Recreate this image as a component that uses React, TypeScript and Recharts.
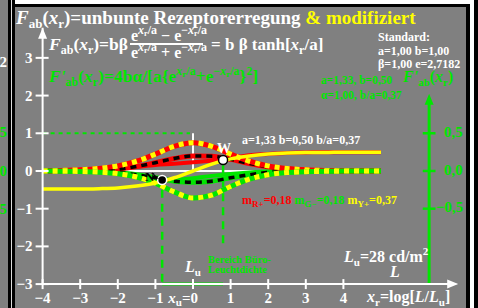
import React from 'react';
import { ComposedChart, Line, XAxis, YAxis, ReferenceLine, ReferenceDot } from 'recharts';

// sample positions on the log-luminance axis x_r
const xs = [-4, -3.5, -3, -2.5, -2, -1.5, -1, -0.5, 0, 0.5, 1, 1.5, 2, 2.5, 3, 3.5, 4, 4.5, 5];
// F_ab(x_r), standard tanh curve (yellow)
const yellowF = [-0.48, -0.48, -0.48, -0.47, -0.45, -0.4, -0.32, -0.18, 0, 0.18, 0.32, 0.4, 0.45, 0.48, 0.49, 0.49, 0.5, 0.5, 0.5];
// modified R+ and G- excitations (solid red / green)
const redF = [0, 0.005, 0.01, 0.03, 0.06, 0.11, 0.16, 0.19, 0.23, 0.28, 0.35, 0.42, 0.45, 0.48, 0.49, 0.5, 0.5, 0.5, 0.5];
const greenF = [0, -0.005, -0.01, -0.03, -0.07, -0.15, -0.22, -0.24, -0.19, -0.13, -0.08, -0.04, -0.01, 0, 0.01, 0.01, 0.01, 0.01, 0.01];
// derivatives, drawn against the green scale
const redYellowD = [0.007, 0.015, 0.032, 0.067, 0.135, 0.258, 0.447, 0.655, 0.752, 0.655, 0.447, 0.258, 0.135, 0.067, 0.032, 0.015, 0.007, 0.003, 0.002];
const greenYellowD = [-0.002, -0.006, -0.013, -0.031, -0.071, -0.159, -0.324, -0.555, -0.715, -0.64, -0.41, -0.214, -0.099, -0.043, -0.019, -0.008, -0.003, -0.001, 0];
const redBlackD = [0, 0.005, 0.01, 0.02, 0.05, 0.12, 0.22, 0.33, 0.4, 0.39, 0.31, 0.2, 0.11, 0.05, 0.02, 0.01, 0, 0, 0];
const greenBlackD = [0, 0, 0, -0.01, -0.04, -0.1, -0.18, -0.27, -0.3, -0.27, -0.18, -0.1, -0.04, -0.01, 0, 0, 0, 0, 0];

const xTicks = [-4, -3, -2, -1, 0, 1, 2, 3, 4];
const yTicks = [-3, -2, -1, 0, 1, 2, 3];
const greenTicks = [1, 0, -1];
const greenTickLabels = ['0,5', '0,0', '\u22120,5'];
const pointN = { x: -0.82, y: -0.24 };
const pointW = { x: 0.8, y: 0.29 };

const data = xs.map((x, i) => ({
  x,
  yel: yellowF[i],
  red: redF[i],
  grn: greenF[i],
  ry: redYellowD[i],
  gy: greenYellowD[i],
  rb: redBlackD[i],
  gb: greenBlackD[i],
}));

const GREEN = '#00e600';
const RED = '#ff0000';
const YEL = '#ffff00';
const GRAY = '#808080';
const FONT = '"Liberation Serif", "Times New Roman", serif';
const GX = 6.28;
const OV = 'visible' as const;

const minus = (v: number) => (v < 0 ? '\u2212' + Math.abs(v) : String(v));

const XTick = (props: any) => {
  const { x, y, payload } = props;
  const v = payload.value;
  return (
    <g>
      <line x1={x} x2={x} y1={y - 5} y2={y + 5} stroke="#fff" strokeWidth={2} />
      {v === 0 ? (
        <text x={x + 5} y={y + 19} textAnchor="end" fill="#fff" fontSize={15} fontWeight="bold" fontFamily={FONT}>
          <tspan fontStyle="italic">x</tspan>
          <tspan fontSize={11} dy={3}>u</tspan>
          <tspan dy={-3}>=0</tspan>
        </text>
      ) : (
        <text x={x} y={y + 19} textAnchor="middle" fill="#fff" fontSize={15} fontWeight="bold" fontFamily={FONT}>
          {minus(v)}
        </text>
      )}
    </g>
  );
};

const YTick = (props: any) => {
  const { x, y, payload } = props;
  return (
    <g>
      <line x1={x - 7} x2={x + 6} y1={y} y2={y} stroke="#fff" strokeWidth={2} />
      <text x={x - 10} y={y + 5} textAnchor="end" fill="#fff" fontSize={15} fontWeight="bold" fontFamily={FONT}>
        {minus(payload.value)}
      </text>
    </g>
  );
};

const ArrowUp = (color: string) => (p: any) => (
  <polygon points={`${p.cx},${p.cy} ${p.cx - 4.5},${p.cy + 11} ${p.cx + 4.5},${p.cy + 11}`} fill={color} />
);
const ArrowRight = (p: any) => (
  <polygon points={`${p.cx + 2},${p.cy} ${p.cx - 9},${p.cy - 4.5} ${p.cx - 9},${p.cy + 4.5}`} fill="#fff" />
);

export default function App() {
  return (
    <div style={{ position: 'absolute', left: 0, top: 0, width: 478, height: 308, background: GRAY, overflow: 'hidden' }}>
      {/* frame */}
      <div style={{ position: 'absolute', left: 8, top: 0, width: 3, height: 308, background: '#000' }} />
      <div style={{ position: 'absolute', left: 11, top: 0, width: 1, height: 308, background: '#ddd' }} />
      <div style={{ position: 'absolute', left: 12, top: 0, width: 3, height: 308, background: '#000' }} />
      <div style={{ position: 'absolute', left: 15, top: 0, width: 463, height: 4, background: '#fff' }} />
      <div style={{ position: 'absolute', left: 12, top: 4, width: 458, height: 3, background: '#000' }} />
      <div style={{ position: 'absolute', left: 466, top: 4, width: 4, height: 304, background: '#000' }} />
      <div style={{ position: 'absolute', left: 470, top: 0, width: 4, height: 308, background: '#fff' }} />
      <div style={{ position: 'absolute', left: 474, top: 0, width: 4, height: 308, background: '#000' }} />

      <div style={{ position: 'absolute', left: 0, top: 0, width: 478, height: 308 }}>
        <ComposedChart width={478} height={308} data={data} margin={{ top: 27.7, right: 21.8, bottom: 22.9, left: 41.6 }}>
          <XAxis type="number" dataKey="x" domain={[-4, 7]} ticks={xTicks} height={1} tickSize={0} tickMargin={0}
            axisLine={{ stroke: '#fff', strokeWidth: 2 }} tickLine={false} tick={XTick} interval={0} />
          <YAxis type="number" domain={[-3, 3.8]} ticks={yTicks} width={1} tickSize={0} tickMargin={0}
            axisLine={{ stroke: '#fff', strokeWidth: 2 }} tickLine={false} tick={YTick} interval={0} />

          <ReferenceLine ifOverflow={OV} segment={[{ x: -4, y: 1 }, { x: -0.08, y: 1 }]} stroke={GREEN} strokeWidth={2} strokeDasharray="4 4" />
          <ReferenceLine ifOverflow={OV} segment={[{ x: 0, y: 0 }, { x: 0, y: 1 }]} stroke="#fff" strokeWidth={2} />
          <ReferenceLine ifOverflow={OV} segment={[{ x: -4, y: 0 }, { x: 5, y: 0 }]} stroke="#fff" strokeWidth={2} />
          <ReferenceLine ifOverflow={OV} segment={[{ x: pointN.x, y: -0.5 }, { x: pointN.x, y: -3 }]} stroke={GREEN} strokeWidth={2.5} strokeDasharray="8 6" />
          <ReferenceLine ifOverflow={OV} segment={[{ x: pointW.x, y: 0.15 }, { x: pointW.x, y: -1.95 }]} stroke={GREEN} strokeWidth={2.5} strokeDasharray="8 6" />
          <ReferenceLine ifOverflow={OV} segment={[{ x: pointN.x, y: -3 }, { x: pointW.x, y: -3 }]} stroke={GREEN} strokeWidth={3} />

          <ReferenceLine ifOverflow={OV} segment={[{ x: GX, y: -3 }, { x: GX, y: 1.9 }]} stroke={GREEN} strokeWidth={3} />
          {greenTicks.map((t) => (
            <ReferenceLine key={t} ifOverflow={OV} segment={[{ x: GX - 0.17, y: t }, { x: GX + 0.17, y: t }]} stroke={GREEN} strokeWidth={2.5} />
          ))}
          <ReferenceDot ifOverflow={OV} x={GX} y={2.05} r={0} shape={ArrowUp(GREEN)} />
          <ReferenceDot ifOverflow={OV} x={-4} y={3.8} r={0} shape={ArrowUp('#fff')} />
          <ReferenceDot ifOverflow={OV} x={7} y={-3} r={0} shape={ArrowRight} />

          <Line dataKey="red" type="monotone" stroke={RED} strokeWidth={4} dot={false} isAnimationActive={false} />
          <Line dataKey="grn" type="monotone" stroke={GREEN} strokeWidth={4} dot={false} isAnimationActive={false} />
          <Line dataKey="gb" type="monotone" stroke={GREEN} strokeWidth={5} dot={false} isAnimationActive={false} />
          <Line dataKey="gb" type="monotone" stroke="#000" strokeWidth={3.5} strokeDasharray="6 5" dot={false} isAnimationActive={false} />
          <Line dataKey="rb" type="monotone" stroke={RED} strokeWidth={5} dot={false} isAnimationActive={false} />
          <Line dataKey="rb" type="monotone" stroke="#000" strokeWidth={3.5} strokeDasharray="6 5" dot={false} isAnimationActive={false} />
          <Line dataKey="ry" type="monotone" stroke={RED} strokeWidth={5} dot={false} isAnimationActive={false} />
          <Line dataKey="ry" type="monotone" stroke={YEL} strokeWidth={5} strokeDasharray="5 5" dot={false} isAnimationActive={false} />
          <Line dataKey="gy" type="monotone" stroke={GREEN} strokeWidth={5} dot={false} isAnimationActive={false} />
          <Line dataKey="gy" type="monotone" stroke={YEL} strokeWidth={5} strokeDasharray="5 5" dot={false} isAnimationActive={false} />
          <Line dataKey="yel" type="monotone" stroke={YEL} strokeWidth={3.5} dot={false} isAnimationActive={false} />

          <ReferenceDot ifOverflow={OV} x={pointN.x} y={pointN.y} r={4.5} fill="#000" stroke="#fff" strokeWidth={1.5} />
          <ReferenceDot ifOverflow={OV} x={pointW.x} y={pointW.y} r={4.5} fill="#fff" stroke="#000" strokeWidth={1.5} />
        </ComposedChart>
      </div>

      <svg width={478} height={308} style={{ position: 'absolute', left: 0, top: 0, pointerEvents: 'none' }}
        fontFamily={FONT} fontWeight="bold">
        {/* fragments of the neighbouring panel */}
        <text x={7} y={67} textAnchor="end" fill="#fff" fontSize={15}>2</text>
        <text x={7} y={137} textAnchor="end" fill={GREEN} fontSize={15}>5</text>
        <text x={7} y={176} textAnchor="end" fill={GREEN} fontSize={15}>0</text>
        <text x={7} y={214} textAnchor="end" fill={GREEN} fontSize={15}>5</text>

        <text x={16} y={24} fill="#fff" fontSize={19}>
          <tspan fontStyle="italic">F</tspan>
          <tspan fontSize={13} dy={4}>ab</tspan>
          <tspan dy={-4}>(</tspan>
          <tspan fontStyle="italic">x</tspan>
          <tspan fontSize={13} dy={4}>r</tspan>
          <tspan dy={-4}>)=unbunte Rezeptorerregung </tspan>
          <tspan fill={YEL}>&amp; modifiziert</tspan>
        </text>

        <text x={49} y={50} fill="#fff" fontSize={17.5}>
          <tspan fontStyle="italic">F</tspan>
          <tspan fontSize={12} dy={4}>ab</tspan>
          <tspan dy={-4}>(</tspan>
          <tspan fontStyle="italic">x</tspan>
          <tspan fontSize={12} dy={4}>r</tspan>
          <tspan dy={-4}>)=bβ</tspan>
        </text>
        <text x={131} y={41} fill="#fff" fontSize={16}>
          <tspan>e</tspan>
          <tspan fontSize={12} dy={-7} fontStyle="italic">x</tspan>
          <tspan fontSize={8} dy={2}>r</tspan>
          <tspan fontSize={12} dy={-2}>/a</tspan>
          <tspan dy={7}> − e</tspan>
          <tspan fontSize={12} dy={-7}>−</tspan>
          <tspan fontSize={12} fontStyle="italic">x</tspan>
          <tspan fontSize={8} dy={2}>r</tspan>
          <tspan fontSize={12} dy={-2}>/a</tspan>
        </text>
        <line x1={130} x2={203} y1={44} y2={44} stroke="#fff" strokeWidth={2} />
        <text x={131} y={58} fill="#fff" fontSize={16}>
          <tspan>e</tspan>
          <tspan fontSize={12} dy={-7} fontStyle="italic">x</tspan>
          <tspan fontSize={8} dy={2}>r</tspan>
          <tspan fontSize={12} dy={-2}>/a</tspan>
          <tspan dy={7}> + e</tspan>
          <tspan fontSize={12} dy={-7}>−</tspan>
          <tspan fontSize={12} fontStyle="italic">x</tspan>
          <tspan fontSize={8} dy={2}>r</tspan>
          <tspan fontSize={12} dy={-2}>/a</tspan>
        </text>
        <text x={211} y={50} fill="#fff" fontSize={17}>
          <tspan>= b β tanh[</tspan>
          <tspan fontStyle="italic">x</tspan>
          <tspan fontSize={12} dy={4}>r</tspan>
          <tspan dy={-4}>/a]</tspan>
        </text>

        <text x={49} y={82} fill={GREEN} fontSize={17.5}>
          <tspan fontStyle="italic">F'</tspan>
          <tspan fontSize={12} dy={4}>ab</tspan>
          <tspan dy={-4}>(</tspan>
          <tspan fontStyle="italic">x</tspan>
          <tspan fontSize={12} dy={4}>r</tspan>
          <tspan dy={-4}>)=4bα/[a{'{'}e</tspan>
          <tspan fontSize={12} dy={-7} fontStyle="italic">x</tspan>
          <tspan fontSize={9} dy={2}>r</tspan>
          <tspan fontSize={12} dy={-2}>/a</tspan>
          <tspan dy={7}>+e</tspan>
          <tspan fontSize={12} dy={-7}>−</tspan>
          <tspan fontSize={12} fontStyle="italic">x</tspan>
          <tspan fontSize={9} dy={2}>r</tspan>
          <tspan fontSize={12} dy={-2}>/a</tspan>
          <tspan dy={7}>{'}'}</tspan>
          <tspan fontSize={12} dy={-7}>2</tspan>
          <tspan dy={7}>]</tspan>
        </text>

        <text x={378} y={41} fill="#fff" fontSize={12}>Standard:</text>
        <text x={378} y={55} fill="#fff" fontSize={12}>a=1,00 b=1,00</text>
        <text x={378} y={68} fill="#fff" fontSize={12}>β=1,00 e=2,7182</text>

        <text x={321} y={84} fill={GREEN} fontSize={11.5}>a=1,33, b=0,50</text>
        <text x={321} y={99} fill={GREEN} fontSize={11.5}>α=1,00, b/a=0,37</text>
        <text x={403} y={82} fill={GREEN} fontSize={16}>
          <tspan fontStyle="italic">F'</tspan>
          <tspan fontSize={11} dy={4}>ab</tspan>
          <tspan dy={-4}>(</tspan>
          <tspan fontStyle="italic">x</tspan>
          <tspan fontSize={11} dy={4}>r</tspan>
          <tspan dy={-4}>)</tspan>
        </text>

        {greenTickLabels.map((t, i) => (
          <text key={t} x={t.startsWith('\u2212') ? 436 : 444} y={[137, 175, 212][i]} fill={GREEN} fontSize={15}>{t}</text>
        ))}

        <text x={242} y={144} fill="#fff" fontSize={12}>a=1,33 b=0,50 b/a=0,37</text>

        <text x={242} y={204} fontSize={12}>
          <tspan fill={RED}>m</tspan>
          <tspan fill={RED} fontSize={9} dy={3}>R+</tspan>
          <tspan fill={RED} dy={-3}>=0,18 </tspan>
          <tspan fill={GREEN}>m</tspan>
          <tspan fill={GREEN} fontSize={9} dy={3}>G−</tspan>
          <tspan fill={GREEN} dy={-3}>=0,18 </tspan>
          <tspan fill={YEL}>m</tspan>
          <tspan fill={YEL} fontSize={9} dy={3}>Y+</tspan>
          <tspan fill={YEL} dy={-3}>=0,37</tspan>
        </text>

        <text x={217} y={153} fill="#fff" fontSize={14}>W</text>
        <text x={145} y={181} fill="#000" fontSize={13}>N</text>
        <polygon points="159,179 152,172 155,178" fill="#000" />

        <text x={185} y={272} fill="#fff" fontSize={16}>
          <tspan fontStyle="italic">L</tspan>
          <tspan fontSize={11} dy={4}>u</tspan>
        </text>
        <text x={208} y={263} fill={GREEN} fontSize={10.5}>Bereich Büro-</text>
        <text x={208} y={273} fill={GREEN} fontSize={10.5}>Leuchtdichte</text>

        <text x={344} y={262} fill="#fff" fontSize={16}>
          <tspan fontStyle="italic">L</tspan>
          <tspan fontSize={11} dy={4}>u</tspan>
          <tspan dy={-4}>=28 cd/m</tspan>
          <tspan fontSize={11} dy={-7}>2</tspan>
        </text>
        <text x={390} y={277} fill="#fff" fontSize={16} fontStyle="italic">L</text>
        <text x={367} y={302} fill="#fff" fontSize={16}>
          <tspan fontStyle="italic">x</tspan>
          <tspan fontSize={11} dy={4}>r</tspan>
          <tspan dy={-4}>=log[</tspan>
          <tspan fontStyle="italic">L</tspan>
          <tspan>/</tspan>
          <tspan fontStyle="italic">L</tspan>
          <tspan fontSize={11} dy={4}>u</tspan>
          <tspan dy={-4}>]</tspan>
        </text>
      </svg>
    </div>
  );
}
